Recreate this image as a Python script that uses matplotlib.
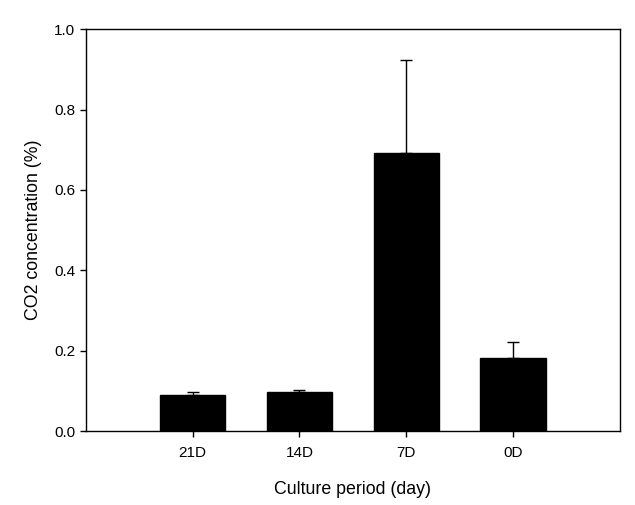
import matplotlib
matplotlib.use("Agg")
import matplotlib.pyplot as plt

categories = ["21D", "14D", "7D", "0D"]
values = [0.090, 0.098, 0.691, 0.183]
errors = [0.007, 0.003, 0.232, 0.039]

plt.rcParams['font.family'] = ['Liberation Sans', 'DejaVu Sans']

fig = plt.figure(figsize=(6.35, 5.05), dpi=100)
ax = fig.add_axes([0.1354, 0.1465, 0.8406, 0.7955])

x = list(range(1, len(categories) + 1))
ax.bar(x, values, width=0.61, color='black', edgecolor='black', zorder=2)
ax.errorbar(x, values, yerr=[[0]*len(errors), errors], fmt='none', ecolor='black',
            elinewidth=1, capsize=4.5, capthick=1, zorder=3)

ax.set_xlim(0, 5)
ax.set_ylim(0, 1.0)
ax.set_xticks(x)
ax.set_xticklabels(categories)
ax.set_yticks([0.0, 0.2, 0.4, 0.6, 0.8, 1.0])
ax.set_yticklabels(["0.0", "0.2", "0.4", "0.6", "0.8", "1.0"])
ax.tick_params(direction='out', length=4.3, width=1, labelsize=11, top=False, right=False)
ax.tick_params(axis='x', pad=6.5)
ax.tick_params(axis='y', pad=3.5)
for s in ax.spines.values():
    s.set_linewidth(1)

ax.set_xlabel("Culture period (day)", fontsize=12.8, labelpad=15)
ax.set_ylabel("CO2 concentration (%)", fontsize=12.8, labelpad=9)

fig.savefig("out.png", dpi=100)
